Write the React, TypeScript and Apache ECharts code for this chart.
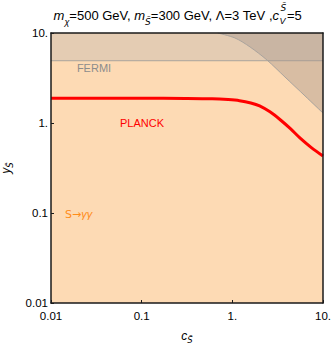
import React, { useEffect, useRef } from "react";
import * as echarts from "echarts";

// Axis tick labels (log axes, decades)
const xTickLabels: Record<string, string> = { "-2": "0.01", "-1": "0.1", "0": "1.", "1": "10." };
const yTickLabels: Record<string, string> = { "-2": "0.01", "-1": "0.1", "0": "1.", "1": "10." };

// PLANCK bound (red)
const planckC = [0.01, 0.1, 0.3, 0.6, 0.9, 1.2, 1.6, 2.0, 2.6, 3.4, 4.4, 5.6, 7.5, 10];
const planckY = [1.88, 1.88, 1.875, 1.86, 1.82, 1.77, 1.67, 1.55, 1.33, 1.08, 0.86, 0.68, 0.53, 0.43];

// FERMI bound (horizontal)
const fermiC = [0.01, 10];
const fermiY = [4.92, 4.92];

// Other (grey) excluded region boundary
const boundC = [0.69, 1.07, 1.57, 2.41, 3.81, 6.33, 10];
const boundY = [10, 8.8, 6.99, 5.01, 3.24, 2.0, 1.29];

const FONT = "'Liberation Sans', Arial, sans-serif";
const TFONT = "'DejaVu Sans', 'Liberation Sans', sans-serif";

const zip = (a: number[], b: number[]) => a.map((v, i) => [v, b[i]]);
const logKey = (v: number) => String(Math.round(Math.log10(v)));

export default function App() {
  const ref = useRef<HTMLDivElement>(null);
  useEffect(() => {
    if (!ref.current) return;
    const chart = echarts.init(ref.current, undefined, { renderer: "svg" });
    const frame = { show: true, lineStyle: { color: "#1a1a1a", width: 1.5 } };
    const mkRich = (fs: number, sfs: number, lh: number, slh: number) => ({
      i: { fontStyle: "italic", fontSize: fs, lineHeight: lh, fontFamily: FONT, color: "#000" },
      sub: { fontStyle: "italic", fontSize: sfs, lineHeight: slh, verticalAlign: "bottom", fontFamily: FONT, color: "#000" },
      subS: { fontStyle: "italic", fontSize: sfs, lineHeight: slh, verticalAlign: "bottom", fontFamily: TFONT, color: "#000" },
    });
    const axisRich = mkRich(12, 8.5, 18, 9);
    const titleRich = mkRich(13, 9, 22, 11);
    chart.setOption({
      animation: false,
      grid: {
        left: 51,
        top: 33,
        width: 272,
        height: 270,
        show: true,
        backgroundColor: "#FDDAB4",
        borderWidth: 0,
        containLabel: false,
        outerBoundsMode: "none",
      },
      xAxis: [
        {
          type: "log",
          logBase: 10,
          min: 0.01,
          max: 10,
          z: 10,
          axisLine: frame,
          axisTick: { show: true, inside: true, length: 3, lineStyle: { color: "#1a1a1a" } },
          splitLine: { show: false },
          minorTick: { show: false },
          axisLabel: {
            formatter: (v: number) => xTickLabels[logKey(v)] ?? "",
            fontFamily: FONT,
            fontSize: 11.5,
            color: "#000",
            margin: 7,
            showMinLabel: true,
            showMaxLabel: true,
          },
          name: "{i|c}{subS|S\u0303}",
          nameLocation: "middle",
          nameGap: 16,
          nameTextStyle: { fontFamily: FONT, fontSize: 12, lineHeight: 18, rich: axisRich },
        },
        {
          type: "log",
          logBase: 10,
          min: 0.01,
          max: 10,
          position: "top",
          z: 10,
          axisLine: frame,
          axisTick: { show: false },
          axisLabel: { show: false },
          splitLine: { show: false },
        },
      ],
      yAxis: [
        {
          type: "log",
          logBase: 10,
          min: 0.01,
          max: 10,
          z: 10,
          axisLine: frame,
          axisTick: { show: true, inside: true, length: 3, lineStyle: { color: "#1a1a1a" } },
          splitLine: { show: false },
          axisLabel: {
            formatter: (v: number) => yTickLabels[logKey(v)] ?? "",
            fontFamily: FONT,
            fontSize: 11.5,
            color: "#000",
            margin: 3,
            showMinLabel: true,
            showMaxLabel: true,
          },
          name: "{i|y}{subS|S\u0303}",
          nameLocation: "middle",
          nameGap: 30,
          nameRotate: 90,
          nameTextStyle: { fontFamily: FONT, fontSize: 12, lineHeight: 18, rich: axisRich },
        },
        {
          type: "log",
          logBase: 10,
          min: 0.01,
          max: 10,
          position: "right",
          z: 10,
          axisLine: frame,
          axisTick: { show: false },
          axisLabel: { show: false },
          splitLine: { show: false },
        },
      ],
      series: [
        {
          name: "FERMI",
          type: "line",
          data: zip(fermiC, fermiY),
          symbol: "none",
          silent: true,
          z: 2,
          lineStyle: { color: "#a9a39d", width: 1 },
          areaStyle: { origin: "end", color: "rgb(228,204,179)", opacity: 1 },
        },
        {
          name: "other",
          type: "line",
          data: zip(boundC, boundY),
          symbol: "none",
          smooth: 0.3,
          silent: true,
          z: 3,
          lineStyle: { color: "#a9a39d", width: 1 },
          areaStyle: { origin: "end", color: "rgba(165,150,140,0.42)", opacity: 1 },
        },
        {
          name: "PLANCK",
          type: "line",
          data: zip(planckC, planckY),
          symbol: "none",
          smooth: 0.3,
          silent: true,
          z: 4,
          lineStyle: { color: "#ff0000", width: 3 },
        },
      ],
      graphic: [
        {
          type: "text",
          x: 279,
          y: 15,
          style: {
            text: "{i|m}{sub|\u03c7}=500 GeV, {i|m}{subS|S\u0303}=300 GeV, \u039b=3 TeV ,{i|c}",
            align: "right",
            verticalAlign: "middle",
            fontFamily: FONT,
            fontSize: 13,
            lineHeight: 22,
            fill: "#000",
            rich: titleRich,
          },
        },
        {
          type: "text",
          x: 279.5,
          y: 21,
          style: {
            text: "V",
            align: "left",
            verticalAlign: "middle",
            fontFamily: FONT,
            fontStyle: "italic",
            fontSize: 9,
            fill: "#000",
          },
        },
        {
          type: "text",
          x: 280.5,
          y: 8,
          style: {
            text: "S\u0303",
            align: "left",
            verticalAlign: "middle",
            fontFamily: TFONT,
            fontStyle: "italic",
            fontSize: 9,
            fill: "#000",
          },
        },
        {
          type: "text",
          x: 287,
          y: 15,
          style: {
            text: "=5",
            align: "left",
            verticalAlign: "middle",
            fontFamily: FONT,
            fontSize: 13,
            fill: "#000",
          },
        },
        {
          type: "text",
          x: 94,
          y: 68,
          z: 20,
          style: { text: "FERMI", align: "center", verticalAlign: "middle", fontFamily: FONT, fontSize: 11, fill: "#8c8c8c" },
        },
        {
          type: "text",
          x: 120,
          y: 123,
          z: 20,
          style: { text: "PLANCK", align: "left", verticalAlign: "middle", fontFamily: FONT, fontSize: 11, fill: "#ff0000" },
        },
        {
          type: "text",
          x: 65,
          y: 214,
          z: 20,
          style: {
            text: "S\u2192{i|\u03b3\u03b3}",
            align: "left",
            verticalAlign: "middle",
            fontFamily: TFONT,
            fontSize: 11,
            fill: "#ff8c1a",
            rich: { i: { fontStyle: "italic", fontFamily: FONT, fontSize: 11, color: "#ff8c1a" } },
          },
        },
      ],
    });
    return () => chart.dispose();
  }, []);
  return (
    <div
      ref={ref}
      style={{ position: "fixed", left: 0, top: 0, width: 332, height: 345, background: "#fff" }}
    />
  );
}
